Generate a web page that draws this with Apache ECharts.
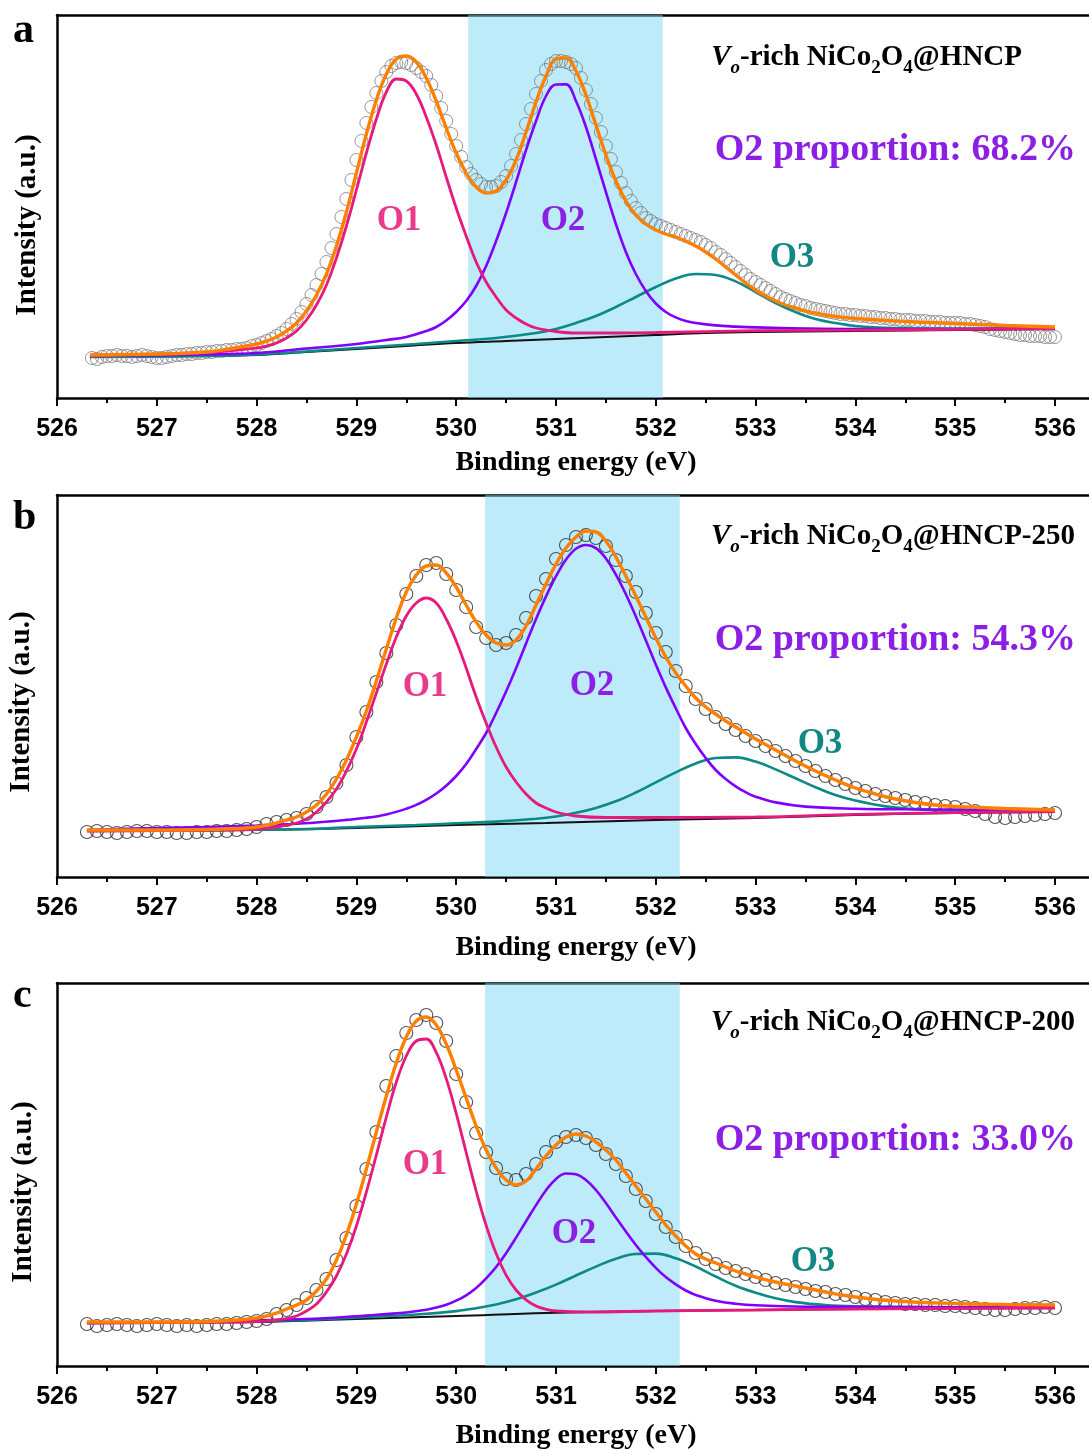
<!DOCTYPE html>
<html><head><meta charset="utf-8">
<script src="https://cdn.jsdelivr.net/npm/echarts@6/dist/echarts.min.js"></script>
<style>html,body{margin:0;padding:0;background:#fff}#c{width:1089px;height:1452px}</style>
</head><body><div id="c"></div>
<script>
// ---------- data (binding energy in eV, intensity in arbitrary units) ----------
const xTickValues = [526, 527, 528, 529, 530, 531, 532, 533, 534, 535, 536];
const panelLetters = ['a', 'b', 'c'];
const sampleSuffix = ['', '-250', '-200'];
const o2Proportion = ['68.2%', '54.3%', '33.0%'];
const shadeRanges = [[530.12, 532.07], [530.29, 532.24], [530.29, 532.24]];

// panel a: measured points (energy grid 526.35 + 0.05 step)
const aScanStart = 526.35, aScanStep = 0.05;
const aScan = [
 40,39,41,42,42,43,42,42,41,42,43,42,41,40,40,41,42,43,43,44,
 44,45,45,46,46,47,47,48,48,49,49,50,52,53,55,57,59,62,65,69,
 74,79,86,94,103,113,124,136,150,164,181,199,218,238,257,275,291,305,317,326,
 332,335,336,335,333,330,326,322,313,302,290,277,264,252,241,231,224,218,214,211,
 211,212,216,222,232,244,258,274,289,304,317,328,334,337,337,336,334,330,320,308,
 294,280,266,252,239,226,215,205,197,190,185,180,177,174,172,170,168,166,164,162,
 160,158,156,153,150,146,143,139,135,131,127,123,119,116,113,110,107,104,101,99,
 97,95,93,92,90,89,88,87,86,85,84,84,83,83,82,82,81,81,80,80,
 79,79,78,78,78,77,77,77,76,76,76,75,75,75,75,74,74,73,72,71,
 69,68,67,66,65,64,63,63,62,62,62,61,61,61
];
const aFit = [[526.33,43],[527.0,44],[527.5,46],[527.75,49.5],[528.0,54],[528.1,57],[528.2,61],[528.3,67],[528.4,75],[528.5,87],[528.6,103],[528.7,124],[528.8,152],[528.9,186],[529.0,225],[529.1,264],[529.2,298],[529.3,324],[529.4,339],[529.5,342],[529.6,336],[529.7,320],[529.8,297],[529.9,270],[530.0,245],[530.1,225],[530.2,211],[530.3,205],[530.4,207],[530.5,218],[530.6,238],[530.7,266],[530.8,296],[530.9,322],[531.0,339],[531.1,340],[531.2,327],[531.3,303],[531.4,273],[531.5,243],[531.6,217],[531.7,197],[531.8,183],[531.9,174],[532.0,168],[532.1,164],[532.2,161],[532.3,157],[532.4,152],[532.5,146],[532.6,139],[532.7,131],[532.8,123],[532.9,115],[533.0,108],[533.1,102],[533.2,97],[533.3,93],[533.4,90],[533.5,87],[533.6,85],[533.7,83],[533.8,81.5],[533.9,80.5],[534.0,79.5],[534.5,76.5],[535.0,74.5],[535.5,72.5],[536.0,71]];
const aO1 = [[526.33,42],[527.0,43.8],[527.5,45.5],[528.0,50],[528.1,52],[528.2,55],[528.3,60],[528.4,67],[528.5,78],[528.6,93],[528.7,113],[528.8,140],[528.9,172],[529.0,208],[529.1,245],[529.2,279],[529.3,306],[529.4,319],[529.5,317],[529.6,304],[529.7,281],[529.8,253],[529.9,221],[530.0,190],[530.1,162],[530.2,136],[530.3,116],[530.4,101],[530.5,88],[530.6,80],[530.7,74],[530.8,70],[531.0,66.5],[531.2,65],[531.5,65],[532.0,65.5],[533.0,67.3],[534.0,67.8],[535.0,68.7],[536.0,69.3]];
const aO2 = [[526.33,42],[527.5,43.5],[528.0,45],[528.5,49.5],[529.0,54],[529.3,58],[529.5,61],[529.7,67],[529.8,71],[529.9,77.5],[530.0,86],[530.1,97],[530.2,112],[530.3,132],[530.4,157],[530.5,185],[530.6,216],[530.7,248],[530.8,277],[530.9,302],[531.0,313.5],[531.1,313.6],[531.2,297],[531.3,271],[531.4,239],[531.5,206],[531.6,174],[531.7,146],[531.8,124],[531.9,107],[532.0,94.5],[532.1,86],[532.2,80.6],[532.3,77],[532.4,75],[532.6,72.6],[532.8,71.4],[533.0,70.6],[533.5,69.5],[534.0,69],[535.0,69],[536.0,70]];
const aO3 = [[526.33,41],[527.5,42],[528.0,43.6],[528.5,46.6],[529.0,50],[529.6,54],[530.0,57],[530.4,60],[530.8,65],[531.0,69],[531.2,75],[531.4,82],[531.6,91],[531.8,101],[532.0,111],[532.2,119.5],[532.4,124],[532.6,123],[532.8,116.6],[533.0,106],[533.2,95],[533.4,86],[533.6,79],[533.8,75],[534.0,72],[534.4,70],[535.0,69.4],[536.0,69.7]];
const aBase = [[526.33,41],[527.0,41.5],[527.5,42],[528.0,43],[528.5,46],[529.0,49],[529.5,52],[530.0,55],[530.5,57],[531.0,59],[531.5,61],[532.0,63],[532.5,65],[533.0,66],[534.0,67],[535.0,68],[536.0,69]];

// panel b: measured points (energy grid 526.3 + 0.1 step)
const bScanStart = 526.3, bScanStep = 0.1;
const bScan = [
 45,46,45,44,45,46,46,45,45,44,
 44,45,45,46,46,47,48,50,53,55,
 57,59,63,70,80,94,112,140,165,195,
 224,252,283,301,312,314,303,287,270,250,
 239,232,234,242,259,281,298,318,332,340,
 342,339,331,317,301,285,264,244,225,206,
 191,178,168,160,153,147,141,136,131,126,
 121,116,111,106,101,97,93,89,86,83,
 81,79,77,75,74,72,71,70,68,66,
 63,60,59,60,61,62,63,64
];
const bFit = [[526.3,47],[527.0,47],[527.5,47.5],[527.8,48.5],[528.0,50],[528.1,52],[528.2,54],[528.3,57],[528.4,60],[528.5,65],[528.6,72],[528.7,83],[528.8,98],[528.9,117],[529.0,140],[529.1,166],[529.2,196],[529.3,228],[529.4,259],[529.5,285],[529.6,302],[529.7,311],[529.8,312],[529.9,304],[530.0,290],[530.1,272],[530.2,255],[530.3,242],[530.4,234],[530.5,232],[530.6,237],[530.7,251],[530.8,272],[530.9,293],[531.0,313],[531.1,329],[531.2,340],[531.3,346],[531.4,345],[531.5,336],[531.6,320],[531.7,301],[531.8,281],[531.9,260],[532.0,239],[532.1,220],[532.2,204],[532.3,191],[532.4,179],[532.5,170],[532.6,163],[532.7,156],[532.8,150],[532.9,144],[533.0,138],[533.2,127],[533.4,116],[533.6,106],[533.8,97],[534.0,89],[534.2,83],[534.4,78],[534.6,74.5],[534.8,72],[535.0,70.5],[535.5,68.5],[536.0,67]];
const bO1 = [[526.3,46],[527.0,46.4],[527.5,46.7],[528.0,48],[528.2,50],[528.4,54],[528.5,58],[528.6,65],[528.7,75],[528.8,88],[528.9,106],[529.0,128],[529.1,155],[529.2,184],[529.3,213],[529.4,240],[529.5,261],[529.6,274],[529.7,279],[529.8,274],[529.9,258],[530.0,236],[530.1,209],[530.2,180],[530.3,154],[530.4,130],[530.5,110],[530.6,95],[530.7,83],[530.8,74],[530.9,69],[531.0,65],[531.2,61],[531.5,59.5],[532.0,59.5],[533.0,60],[534.0,62.6],[535.0,64.4],[536.0,65.3]];
const bO2 = [[526.3,47],[527.0,49],[527.5,50],[528.0,51.4],[528.3,52.7],[528.6,54.5],[528.9,57.1],[529.1,59.2],[529.3,62.6],[529.5,68.2],[529.6,72.1],[529.7,77.1],[529.8,83.5],[529.9,91.3],[530.0,101],[530.1,113],[530.2,128],[530.3,144],[530.4,164],[530.5,185.5],[530.6,208.7],[530.7,233.6],[530.8,258],[530.9,280.6],[531.0,300.8],[531.1,317.4],[531.2,328.2],[531.3,332],[531.4,328.8],[531.5,318.5],[531.6,302.4],[531.7,282.8],[531.8,260.6],[531.9,236.7],[532.0,212.4],[532.1,189.6],[532.2,168.8],[532.3,149],[532.4,133],[532.5,119],[532.6,107],[532.7,98],[532.8,90.7],[532.9,84.8],[533.0,80.3],[533.2,74.6],[533.5,70.4],[534.0,68.3],[534.5,67.7],[535.0,67.5],[536.0,67.2]];
const bO3 = [[526.3,46],[527.5,47],[528.5,48],[529.0,50],[529.6,52],[530.0,53.7],[530.4,55.4],[530.8,58.2],[531.0,60.5],[531.2,64.2],[531.4,69.1],[531.6,75.7],[531.8,84.5],[532.0,94.6],[532.2,104.6],[532.4,113.5],[532.6,119],[532.8,119.6],[533.0,115.4],[533.2,107.6],[533.4,98.7],[533.6,89.8],[533.8,82],[534.0,76.4],[534.3,70.6],[534.6,67.8],[535.0,66.5],[535.5,66.1],[536.0,66.1]];
const bBase = [[526.3,46],[527.0,46.4],[528.0,47],[529.0,49],[530.0,52],[530.9,54],[532.0,57],[533.0,59],[534.0,62],[535.0,64],[536.0,65]];

// panel c: measured points (energy grid 526.3 + 0.1 step)
const cScanStart = 526.3, cScanStep = 0.1;
const cScan = [
 42,40,41,42,41,40,41,42,41,40,
 41,40,41,42,42,43,44,45,47,52,
 56,61,68,76,87,106,128,160,197,234,
 280,310,333,346,351,343,325,292,264,233,
 214,198,187,186,192,202,214,224,229,231,
 228,221,212,202,190,177,165,152,139,129,
 120,113,107,102,98,95,92,89,86,83,
 81,79,77,75,74,72,71,69,67,66,
 64,63,62,62,61,61,60,60,59,58,
 57,56,56,57,58,58,59,58
];
const cFit = [[526.3,44],[527.0,44],[527.5,44.5],[527.8,46],[528.0,48],[528.1,50],[528.2,53],[528.3,57],[528.4,61],[528.5,66],[528.6,75],[528.7,87],[528.8,106],[528.9,131],[529.0,162],[529.1,197],[529.2,234],[529.3,270],[529.4,303],[529.5,329],[529.6,345],[529.7,349],[529.8,341],[529.9,322],[530.0,296],[530.1,268],[530.2,240],[530.3,216],[530.4,198],[530.5,186],[530.6,181],[530.7,185],[530.8,197],[530.9,210],[531.0,221],[531.1,229],[531.2,232],[531.3,230],[531.4,224],[531.5,216],[531.6,206],[531.7,193],[531.8,180],[531.9,167],[532.0,154],[532.1,141],[532.2,130],[532.3,120],[532.4,112],[532.5,107],[532.6,103],[532.7,99],[532.8,95],[532.9,92],[533.0,89],[533.2,84],[533.4,80],[533.7,74],[534.0,69],[534.4,65],[535.0,62.5],[535.5,61.5],[536.0,61]];
const cO1 = [[526.3,43],[527.0,43.4],[527.5,43.7],[528.0,44.5],[528.2,46],[528.3,47.5],[528.4,50],[528.5,55],[528.6,62],[528.7,74],[528.8,90],[528.9,112],[529.0,140],[529.1,174],[529.2,211],[529.3,249],[529.4,284],[529.5,310],[529.6,325],[529.7,327],[529.8,313.6],[529.9,287.4],[530.0,252.6],[530.1,213.5],[530.2,175],[530.3,140.6],[530.4,112.4],[530.5,90.9],[530.6,76],[530.7,66.2],[530.8,60],[530.9,56.7],[531.0,55],[531.3,54],[532.0,55],[533.0,56],[534.0,57],[536.0,58]];
const cO2 = [[526.3,43],[527.5,44.5],[528.5,47],[529.0,49.7],[529.3,51.9],[529.5,53.5],[529.7,56.3],[529.8,58.4],[529.9,61.2],[530.0,65.3],[530.1,70.7],[530.2,78],[530.3,87.6],[530.4,99],[530.5,112.8],[530.6,128.4],[530.7,144.8],[530.8,160.9],[530.9,175.8],[531.0,187.1],[531.1,192.5],[531.2,191.7],[531.3,185.9],[531.4,176],[531.5,162.9],[531.6,148.5],[531.7,134.4],[531.8,121],[531.9,109],[532.0,98.1],[532.1,88.9],[532.2,81.6],[532.3,75.5],[532.4,71.1],[532.6,65.3],[532.8,62.3],[533.0,60.7],[533.5,59.3],[534.0,59.1],[535.0,58.7],[536.0,58.6]];
const cO3 = [[526.3,43],[527.5,44],[528.5,46],[529.0,48.6],[529.6,51.5],[530.0,54.9],[530.2,57.8],[530.4,61.6],[530.6,66.7],[530.8,73.5],[531.0,81.4],[531.2,90.5],[531.4,99.4],[531.6,107.3],[531.8,112],[532.0,112.4],[532.2,107.7],[532.4,99.5],[532.6,89.5],[532.8,80.2],[533.0,73.2],[533.2,67.7],[533.4,63.9],[533.7,60.9],[534.0,59.6],[534.5,58.9],[535.2,58.6],[536.0,58.6]];
const cBase = [[526.3,43],[527.0,43.4],[528.0,44],[529.0,47],[530.0,50],[530.9,53],[532.0,55],[533.0,56],[534.0,57],[536.0,58]];

// ---------- layout / style ----------
const SERIF = '"Liberation Serif","Times New Roman",serif';
const SANS = '"Liberation Sans",Arial,sans-serif';
const COL = {fit:'#ff8000', o1:'#e6197d', o2:'#7f00ff', o3:'#0b8a86', base:'#111111',
             o1t:'#e93a8c', o2t:'#8b1fe6', o3t:'#138784'};
const PX_PER_EV = 99.8;
const panels = [
  {top:15, height:383, scan:[aScanStart,aScanStep,aScan], fit:aFit, o1:aO1, o2:aO2, o3:aO3, base:aBase, ptColor:'#707070', ptW:0.9},
  {top:495, height:382, scan:[bScanStart,bScanStep,bScan], fit:bFit, o1:bO1, o2:bO2, o3:bO3, base:bBase, ptColor:'#2a2a2a', ptW:1.1},
  {top:983, height:383, scan:[cScanStart,cScanStep,cScan], fit:cFit, o1:cO1, o2:cO2, o3:cO3, base:cBase, ptColor:'#2a2a2a', ptW:1.1}
];
const letterPos = [[13,31],[13,518],[13,996]];
const yTitlePos = [[28,225],[22,702],[24,1192]];
const xTitlePos = [[576,463],[576,948],[576,1436]];
const labelRight = [1022,1075,1075];
const labelTop = [38,517,1003];
const propPos = [[1076,150],[1076,640],[1076,1140]];
const o1Pos = [[399,221],[425,687],[425,1165]];
const o2Pos = [[563,221],[592,686],[574,1234]];
const o3Pos = [[792,258],[820,744],[813,1262]];

const grid = [], xAxis = [], yAxis = [], series = [], graphic = [];
panels.forEach((p, i) => {
  grid.push({left:57, top:p.top, width:11*PX_PER_EV, height:p.height, outerBoundsMode:'none', containLabel:false});
  xAxis.push({gridIndex:i, type:'value', min:526, max:537, interval:1, position:'bottom',
    axisLine:{lineStyle:{color:'#000', width:2.5}},
    axisTick:{length:8, lineStyle:{color:'#000', width:2}},
    minorTick:{show:true, splitNumber:2, length:5, lineStyle:{color:'#000', width:2}},
    splitLine:{show:false}, minorSplitLine:{show:false},
    axisLabel:{color:'#000', fontFamily:SANS, fontWeight:'bold', fontSize:25, margin:19,
      formatter: v => (xTickValues.indexOf(v) >= 0 ? String(v) : '')}});
  xAxis.push({gridIndex:i, type:'value', min:526, max:537, position:'top',
    axisLine:{lineStyle:{color:'#000', width:2.5}}, axisTick:{show:false}, axisLabel:{show:false}, splitLine:{show:false}});
  yAxis.push({gridIndex:i, type:'value', min:0, max:p.height,
    axisLine:{show:true, lineStyle:{color:'#000', width:2.5}}, axisTick:{show:false}, axisLabel:{show:false}, splitLine:{show:false}});
  const xi = 2*i;
  const [s0, st, vals] = p.scan;
  const pts = vals.map((v, k) => [+(s0 + k*st).toFixed(2), v]);
  series.push({type:'scatter', xAxisIndex:xi, yAxisIndex:i, data:pts, symbol:'circle', symbolSize:13,
    itemStyle:{color:'rgba(255,255,255,0)', borderColor:p.ptColor, borderWidth:p.ptW}, silent:true});
  const line = (d, c, w) => ({type:'line', xAxisIndex:xi, yAxisIndex:i, data:d, symbol:'none', showSymbol:false,
    smooth:0.4, lineStyle:{color:c, width:w}, silent:true});
  series.push(line(p.base, COL.base, 2));
  series.push(line(p.o3, COL.o3, 2.6));
  series.push(line(p.o2, COL.o2, 2.6));
  series.push(line(p.o1, COL.o1, 2.8));
  series.push(line(p.fit, COL.fit, 3.4));
  series.push({type:'line', xAxisIndex:xi, yAxisIndex:i, data:[], z:5, silent:true,
    markArea:{silent:true, itemStyle:{color:'rgba(123,215,245,0.5)'},
      data:[[{xAxis:shadeRanges[i][0]}, {xAxis:shadeRanges[i][1]}]]}});

  // texts
  graphic.push({type:'text', z:100, x:letterPos[i][0], y:letterPos[i][1],
    style:{text:panelLetters[i], font:'bold 42px '+SERIF, fill:'#000', align:'left', verticalAlign:'middle'}});
  graphic.push({type:'text', z:100, x:yTitlePos[i][0], y:yTitlePos[i][1], rotation:Math.PI/2,
    style:{text:'Intensity (a.u.)', font:'bold 29px '+SERIF, fill:'#000', align:'center', verticalAlign:'middle'}});
  graphic.push({type:'text', z:100, x:xTitlePos[i][0], y:xTitlePos[i][1],
    style:{text:'Binding energy (eV)', font:'bold 28px '+SERIF, fill:'#000', align:'center', verticalAlign:'middle'}});
  const base = {fontFamily:SERIF, fontWeight:'bold', fill:'#000'};
  graphic.push({type:'text', z:100, x:labelRight[i], y:labelTop[i],
    style:{text:'{vi|V}{vo|o}{n|-rich NiCo}{s|2}{n|O}{s|4}{n|@HNCP' + sampleSuffix[i] + '}',
      align:'right', verticalAlign:'top',
      rich:{
        vi:Object.assign({}, base, {fontStyle:'italic', fontSize:29, lineHeight:40, verticalAlign:'middle'}),
        vo:Object.assign({}, base, {fontStyle:'italic', fontSize:19, lineHeight:14, verticalAlign:'bottom'}),
        n:Object.assign({}, base, {fontSize:29, lineHeight:40, verticalAlign:'middle'}),
        s:Object.assign({}, base, {fontSize:19, lineHeight:16, verticalAlign:'bottom'})
      }}});
  graphic.push({type:'text', z:100, x:propPos[i][0], y:propPos[i][1],
    style:{text:'O2 proportion: ' + o2Proportion[i], font:'bold 38px '+SERIF, fill:COL.o2t, align:'right', verticalAlign:'middle'}});
  [[o1Pos,'O1',COL.o1t],[o2Pos,'O2',COL.o2t],[o3Pos,'O3',COL.o3t]].forEach(([pos, t, c]) => {
    graphic.push({type:'text', z:100, x:pos[i][0], y:pos[i][1],
      style:{text:t, font:'bold 35px '+SERIF, fill:c, align:'center', verticalAlign:'middle'}});
  });
});

const chart = echarts.init(document.getElementById('c'), null, {renderer:'canvas'});
chart.setOption({animation:false, backgroundColor:'#fff', grid, xAxis, yAxis, series, graphic});
</script></body></html>
